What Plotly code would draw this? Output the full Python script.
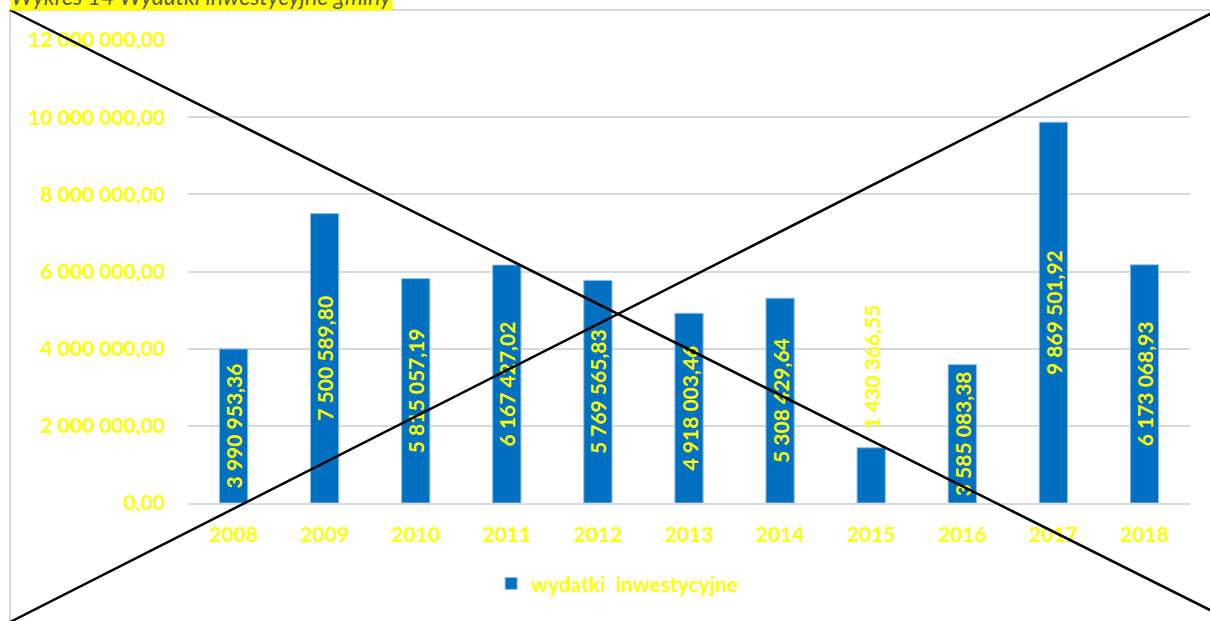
import plotly.graph_objects as go

years = ["2008", "2009", "2010", "2011", "2012", "2013", "2014", "2015", "2016", "2017", "2018"]
values = [3990953.36, 7500589.80, 5815057.19, 6167427.02, 5769565.83, 4918003.46,
          5308429.64, 1430366.55, 3585083.38, 9869501.92, 6173068.93]
label_pos = ["inside"] * 7 + ["outside"] + ["inside"] * 3
tick_vals = [0, 2000000, 4000000, 6000000, 8000000, 10000000, 12000000]
series_name = "wydatki  inwestycyjne"
title_text = "Wykres 14 Wydatki inwestycyjne gminy"


def pl(v):
    s = f"{v:,.2f}"
    return s.replace(",", " ").replace(".", ",")


W, H = 1210, 621
L, R, T, B = 188, 20, 40, 118
PW, PH = W - L - R, H - T - B


def px_x(p):
    return (p - L) / PW


def px_y(p):
    return (H - B - p) / PH


FONT = "Lato"
YEL = "#FFFF00"

labels = [("\u00a0" * 3 + pl(v)) if pos == "outside" else pl(v) for v, pos in zip(values, label_pos)]

fig = go.Figure()
fig.add_trace(go.Bar(
    x=years, y=values, name=series_name,
    marker=dict(color="#0070C0", line=dict(color="#8FBCE6", width=1)),
    text=labels, textposition=label_pos, textangle=-90,
    insidetextanchor="middle", constraintext="none", cliponaxis=False,
    textfont=dict(family=FONT, size=21, color=YEL, weight="bold"),
))

shapes = [
    # frame (left/top edges)
    dict(type="line", xref="paper", yref="paper", x0=px_x(10), y0=px_y(10), x1=px_x(1215), y1=px_y(10),
         line=dict(color="#D9D9D9", width=2), layer="below"),
    dict(type="line", xref="paper", yref="paper", x0=px_x(10), y0=px_y(10), x1=px_x(10), y1=px_y(625),
         line=dict(color="#D9D9D9", width=2), layer="below"),
    # cross-out lines
    dict(type="line", xref="paper", yref="paper", x0=px_x(10), y0=px_y(10), x1=px_x(1212), y1=px_y(611),
         line=dict(color="black", width=2.5)),
    dict(type="line", xref="paper", yref="paper", x0=px_x(10), y0=px_y(622), x1=px_x(1212), y1=px_y(13),
         line=dict(color="black", width=2.5)),
]

fig.update_layout(
    width=W, height=H,
    margin=dict(l=L, r=R, t=T, b=B, pad=0),
    paper_bgcolor="white", plot_bgcolor="white",
    bargap=0.69,
    showlegend=True,
    legend=dict(orientation="h", xref="container", yref="container", x=0.51, xanchor="center",
                y=0.06, yanchor="middle",
                font=dict(family=FONT, size=21, color=YEL, weight="bold"),
                itemwidth=30),
    shapes=shapes,
    annotations=[dict(text="<i>" + title_text + "</i>", xref="paper", yref="paper",
                      x=px_x(10), y=px_y(11), xanchor="left", yanchor="bottom",
                      showarrow=False, bgcolor=YEL, borderpad=0,
                      font=dict(family=FONT, size=23, color="#595959"))],
    xaxis=dict(showgrid=False, showline=True, linecolor="#D9D9D9", linewidth=1.5,
               tickfont=dict(family=FONT, size=21, color=YEL, weight="bold"),
               ticks="", ticklabelstandoff=12, fixedrange=True),
    yaxis=dict(range=[0, 12000000], tickvals=tick_vals, ticktext=[pl(v) for v in tick_vals],
               showgrid=True, gridcolor="#D9D9D9", gridwidth=1.5, zeroline=False,
               tickfont=dict(family=FONT, size=21, color=YEL, weight="bold"),
               ticks="", ticklabelstandoff=22, fixedrange=True),
)

fig.write_html("out.html", config={"displayModeBar": False},
               post_script="document.body.style.margin='0';document.body.style.padding='0';")
